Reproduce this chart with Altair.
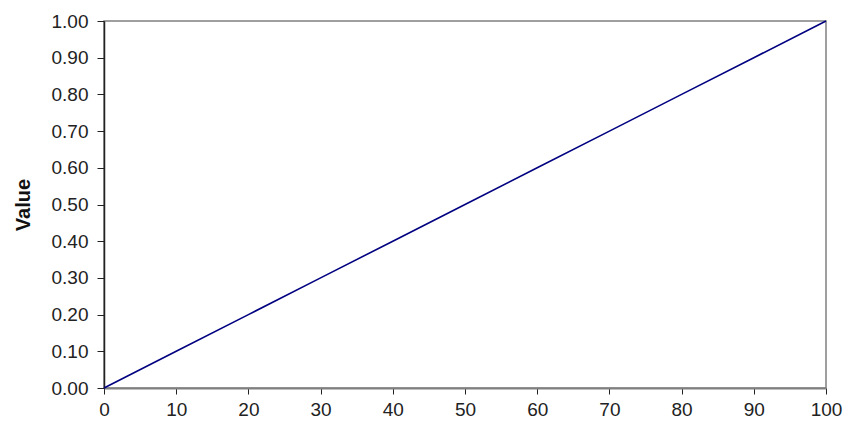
import altair as alt
import pandas as pd

x_vals = [0, 10, 20, 30, 40, 50, 60, 70, 80, 90, 100]
y_vals = [0.0, 0.1, 0.2, 0.3, 0.4, 0.5, 0.6, 0.7, 0.8, 0.9, 1.0]
x_ticks = [0, 10, 20, 30, 40, 50, 60, 70, 80, 90, 100]
y_ticks = [0.0, 0.1, 0.2, 0.3, 0.4, 0.5, 0.6, 0.7, 0.8, 0.9, 1.0]

df = pd.DataFrame({"x": x_vals, "y": y_vals})

FONT = "Liberation Sans"

chart = alt.Chart(df).mark_line(color="#000080", strokeWidth=1.6).encode(
    x=alt.X("x:Q", scale=alt.Scale(domain=[0, 100], nice=False),
            axis=alt.Axis(values=x_ticks, title=None, grid=False, format="d",
                          labelFont=FONT, labelFontSize=19, labelColor="#222222",
                          labelPadding=6, tickSize=6, tickColor="#222222",
                          labelFlush=False, labelOverlap=False,
                          domainColor="#808080", domainWidth=2)),
    y=alt.Y("y:Q", scale=alt.Scale(domain=[0, 1], nice=False),
            axis=alt.Axis(values=y_ticks, title="Value", grid=False, format=".2f",
                          labelFont=FONT, labelFontSize=19, labelColor="#222222",
                          labelPadding=9, tickSize=7, tickColor="#222222",
                          labelFlush=False, labelOverlap=False,
                          domainColor="#222222", domainWidth=1.5,
                          titleFont=FONT, titleFontSize=20, titleFontWeight="bold",
                          titleColor="#111111", titlePadding=18)),
).properties(
    width=722, height=367,
    autosize=alt.AutoSizeParams(type="none"),
    padding={"left": 96, "top": 13, "right": 17, "bottom": 36},
).configure_view(stroke="#808080", strokeWidth=1.5)

chart.save("out.html", embed_options={"renderer": "svg", "actions": False})
